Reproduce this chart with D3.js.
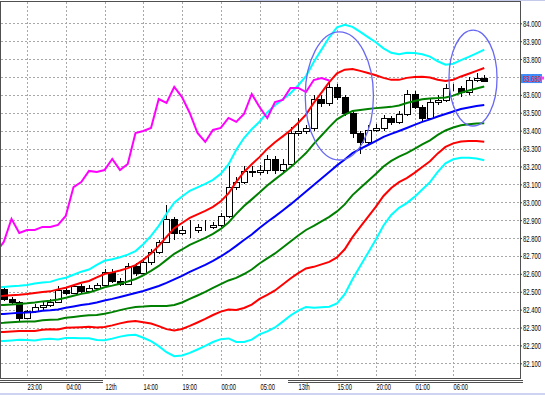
<!DOCTYPE html>
<html>
<head>
<meta charset="utf-8">
<script src="https://cdn.jsdelivr.net/npm/d3@7.9.0/dist/d3.min.js"></script>
<style>
  body { margin: 0; background: #fff; }
  svg { display: block; font-family: "Liberation Sans", Arial, sans-serif; }
</style>
</head>
<body>
<svg id="chart" width="545" height="395"></svg>
<script>
// hourly candles, bar index 0..62
const barOpen = [82.516, 82.460, 82.443, 82.354, 82.393, 82.415, 82.426, 82.443, 82.510, 82.493,
  82.532, 82.504, 82.521, 82.538, 82.611, 82.560, 82.544, 82.644, 82.605, 82.666,
  82.722, 82.778, 82.907, 82.828, 82.845, 82.845, 82.862, 82.862, 82.873, 82.923,
  83.085, 83.113, 83.175, 83.169, 83.180, 83.242, 83.180, 83.214, 83.387, 83.398,
  83.415, 83.577, 83.555, 83.644, 83.588, 83.499, 83.387, 83.337, 83.404, 83.415,
  83.471, 83.449, 83.493, 83.605, 83.532, 83.471, 83.560, 83.572, 83.639, 83.639,
  83.616, 83.683, 83.694];
const barHigh = [82.530, 82.470, 82.450, 82.400, 82.430, 82.440, 82.460, 82.530, 82.520, 82.545,
  82.545, 82.535, 82.550, 82.625, 82.625, 82.575, 82.660, 82.660, 82.690, 82.740,
  82.790, 82.985, 82.920, 82.870, 82.900, 82.880, 82.900, 82.890, 82.940, 83.200,
  83.140, 83.200, 83.200, 83.210, 83.265, 83.260, 83.240, 83.420, 83.470, 83.430,
  83.600, 83.600, 83.665, 83.660, 83.600, 83.510, 83.400, 83.430, 83.440, 83.490,
  83.480, 83.510, 83.630, 83.620, 83.545, 83.580, 83.600, 83.660, 83.660, 83.650,
  83.700, 83.720, 83.710];
const barLow = [82.450, 82.430, 82.335, 82.345, 82.380, 82.400, 82.415, 82.435, 82.480, 82.485,
  82.495, 82.495, 82.510, 82.530, 82.550, 82.530, 82.535, 82.590, 82.595, 82.650,
  82.710, 82.770, 82.790, 82.815, 82.800, 82.830, 82.840, 82.850, 82.860, 82.910,
  83.070, 83.100, 83.140, 83.150, 83.160, 83.160, 83.170, 83.200, 83.370, 83.380,
  83.400, 83.530, 83.540, 83.570, 83.480, 83.360, 83.270, 83.320, 83.390, 83.400,
  83.430, 83.440, 83.480, 83.520, 83.455, 83.460, 83.545, 83.560, 83.620, 83.590,
  83.600, 83.670, 83.670];
const barClose = [82.460, 82.443, 82.354, 82.393, 82.415, 82.426, 82.443, 82.510, 82.493, 82.532,
  82.504, 82.521, 82.538, 82.611, 82.560, 82.544, 82.644, 82.605, 82.666, 82.722,
  82.778, 82.907, 82.828, 82.845, 82.845, 82.862, 82.862, 82.873, 82.923, 83.085,
  83.113, 83.175, 83.169, 83.180, 83.242, 83.180, 83.214, 83.387, 83.398, 83.415,
  83.577, 83.555, 83.644, 83.588, 83.499, 83.387, 83.337, 83.404, 83.415, 83.471,
  83.449, 83.493, 83.605, 83.532, 83.471, 83.560, 83.572, 83.639, 83.639, 83.616,
  83.683, 83.694, 83.680];

// band lines, bar index -1..62
const bandStart = -1;
const bandUp3 = [82.525, 82.527, 82.530, 82.533, 82.538, 82.546, 82.552, 82.555, 82.569, 82.578, 82.595,
  82.612, 82.624, 82.650, 82.673, 82.682, 82.693, 82.707, 82.727, 82.765, 82.812,
  82.868, 82.936, 82.998, 83.032, 83.064, 83.083, 83.103, 83.125, 83.159, 83.211,
  83.293, 83.359, 83.408, 83.450, 83.502, 83.542, 83.575, 83.609, 83.654, 83.705,
  83.784, 83.853, 83.922, 83.977, 83.992, 83.980, 83.952, 83.923, 83.894, 83.860,
  83.835, 83.827, 83.835, 83.834, 83.827, 83.814, 83.788, 83.769, 83.774, 83.794,
  83.812, 83.832, 83.853];
const bandUp2 = [82.475, 82.477, 82.480, 82.483, 82.487, 82.493, 82.499, 82.502, 82.513, 82.522, 82.536,
  82.550, 82.560, 82.580, 82.599, 82.608, 82.619, 82.632, 82.649, 82.678, 82.714,
  82.756, 82.807, 82.855, 82.884, 82.913, 82.932, 82.952, 82.974, 83.005, 83.049,
  83.114, 83.169, 83.212, 83.252, 83.298, 83.335, 83.368, 83.402, 83.444, 83.490,
  83.555, 83.613, 83.671, 83.720, 83.741, 83.745, 83.734, 83.722, 83.710, 83.695,
  83.684, 83.684, 83.695, 83.700, 83.701, 83.697, 83.685, 83.677, 83.685, 83.703,
  83.718, 83.734, 83.750];
const bandUp1 = [82.424, 82.426, 82.429, 82.432, 82.435, 82.440, 82.446, 82.449, 82.457, 82.466, 82.477,
  82.488, 82.496, 82.510, 82.525, 82.534, 82.545, 82.557, 82.571, 82.591, 82.616,
  82.644, 82.678, 82.712, 82.736, 82.762, 82.781, 82.801, 82.823, 82.851, 82.887,
  82.935, 82.979, 83.016, 83.054, 83.094, 83.128, 83.161, 83.195, 83.234, 83.275,
  83.326, 83.373, 83.420, 83.463, 83.490, 83.510, 83.516, 83.521, 83.526, 83.530,
  83.533, 83.541, 83.555, 83.566, 83.575, 83.580, 83.582, 83.585, 83.596, 83.612,
  83.624, 83.636, 83.647];
const bandMid = [82.374, 82.376, 82.379, 82.382, 82.384, 82.387, 82.393, 82.396, 82.401, 82.410, 82.418,
  82.426, 82.432, 82.440, 82.451, 82.460, 82.471, 82.482, 82.493, 82.504, 82.518,
  82.532, 82.549, 82.569, 82.588, 82.611, 82.630, 82.650, 82.672, 82.697, 82.725,
  82.756, 82.789, 82.820, 82.856, 82.890, 82.921, 82.954, 82.988, 83.024, 83.060,
  83.097, 83.133, 83.169, 83.206, 83.239, 83.275, 83.298, 83.320, 83.342, 83.365,
  83.382, 83.398, 83.415, 83.432, 83.449, 83.463, 83.479, 83.493, 83.507, 83.521,
  83.530, 83.538, 83.544];
const bandLo1 = [82.324, 82.326, 82.329, 82.332, 82.333, 82.334, 82.340, 82.343, 82.345, 82.354, 82.359,
  82.364, 82.368, 82.370, 82.377, 82.386, 82.397, 82.407, 82.415, 82.417, 82.420,
  82.420, 82.420, 82.426, 82.440, 82.460, 82.479, 82.499, 82.521, 82.543, 82.563,
  82.577, 82.599, 82.624, 82.658, 82.686, 82.714, 82.747, 82.781, 82.814, 82.845,
  82.868, 82.893, 82.918, 82.949, 82.988, 83.040, 83.080, 83.119, 83.158, 83.200,
  83.231, 83.255, 83.275, 83.298, 83.323, 83.346, 83.376, 83.401, 83.418, 83.430,
  83.436, 83.440, 83.441];
const bandLo2 = [82.273, 82.275, 82.278, 82.281, 82.281, 82.281, 82.287, 82.290, 82.289, 82.298, 82.300,
  82.302, 82.304, 82.300, 82.303, 82.312, 82.323, 82.332, 82.337, 82.330, 82.322,
  82.308, 82.291, 82.283, 82.292, 82.309, 82.328, 82.348, 82.370, 82.389, 82.401,
  82.398, 82.409, 82.428, 82.460, 82.482, 82.507, 82.540, 82.574, 82.604, 82.630,
  82.639, 82.653, 82.667, 82.692, 82.737, 82.805, 82.862, 82.918, 82.974, 83.035,
  83.080, 83.112, 83.135, 83.164, 83.197, 83.229, 83.273, 83.309, 83.329, 83.339,
  83.342, 83.342, 83.338];
const bandLo3 = [82.223, 82.225, 82.228, 82.231, 82.230, 82.228, 82.234, 82.237, 82.233, 82.242, 82.241,
  82.240, 82.240, 82.230, 82.229, 82.238, 82.249, 82.257, 82.259, 82.243, 82.224,
  82.196, 82.162, 82.140, 82.144, 82.158, 82.177, 82.197, 82.219, 82.235, 82.239,
  82.219, 82.219, 82.232, 82.262, 82.278, 82.300, 82.333, 82.367, 82.394, 82.415,
  82.410, 82.413, 82.416, 82.435, 82.486, 82.570, 82.644, 82.717, 82.790, 82.870,
  82.929, 82.969, 82.995, 83.030, 83.071, 83.112, 83.170, 83.217, 83.240, 83.248,
  83.248, 83.244, 83.235];

// lagging close line, bar index -1..42
const lagStart = -1;
const lagLine = [82.722, 82.778, 82.907, 82.828, 82.845, 82.845, 82.862, 82.862, 82.873, 82.923, 83.085,
  83.113, 83.175, 83.169, 83.180, 83.242, 83.180, 83.214, 83.387, 83.398, 83.415,
  83.577, 83.555, 83.644, 83.588, 83.499, 83.387, 83.337, 83.404, 83.415, 83.471,
  83.449, 83.493, 83.605, 83.532, 83.471, 83.560, 83.572, 83.639, 83.639, 83.616,
  83.683, 83.694, 83.680];

const timeBars = [3, 8, 13, 18, 23, 28, 33, 38, 43, 48, 53, 58];
const timeLabels = ["23:00", "04:00", "12th", "14:00", "19:00", "00:00", "05:00", "13th", "15:00", "20:00", "01:00", "06:00"];
const priceTicks = [82.1, 82.2, 82.3, 82.4, 82.5, 82.6, 82.7, 82.8, 82.9, 83.0,
  83.1, 83.2, 83.3, 83.4, 83.5, 83.6, 83.7, 83.8, 83.9, 84.0];
const lastPrice = 83.680;

// hand-drawn ellipses (centre bar, centre price, radius in bars, radius in price)
const ringBar = [43.3, 60.55];
const ringPrice = [83.594, 83.694];
const ringBarRadius = [4.4, 3.1];
const ringPriceRadius = [0.358, 0.268];

const svg = d3.select("#chart");
const plotRight = 520, plotTop = 2, plotBottom = 378;
const squeezeY = 0.69, squeezeX = 0.64;   // narrow terminal font

const x = d3.scaleLinear().domain([0, 62]).range([3.75, 484.25]);
const y = d3.scaleLinear().domain([82.1, 84.0]).range([363.3, 23.3]);

svg.append("defs").append("clipPath").attr("id", "plotClip")
  .append("rect").attr("x", 1).attr("y", plotTop).attr("width", plotRight - 1).attr("height", plotBottom - plotTop);

// grid
const grid = svg.append("g")
  .attr("stroke", "#a8a8a8")
  .attr("stroke-dasharray", "2,2")
  .attr("shape-rendering", "crispEdges");
grid.selectAll("line.h").data(priceTicks).join("line")
  .attr("class", "h")
  .attr("x1", 1).attr("x2", plotRight)
  .attr("y1", (d) => Math.round(y(d)) + 0.5)
  .attr("y2", (d) => Math.round(y(d)) + 0.5);
grid.selectAll("line.v").data(timeBars).join("line")
  .attr("class", "v")
  .attr("x1", (d) => Math.round(x(d)) + 0.5)
  .attr("x2", (d) => Math.round(x(d)) + 0.5)
  .attr("y1", plotTop).attr("y2", plotBottom);

const plot = svg.append("g").attr("clip-path", "url(#plotClip)");

// candles
const candles = plot.append("g").attr("shape-rendering", "crispEdges");
barOpen.forEach((o, i) => {
  const c = barClose[i];
  const cx = Math.round(x(i));
  candles.append("line")
    .attr("x1", cx + 0.5).attr("x2", cx + 0.5)
    .attr("y1", Math.round(y(barHigh[i])))
    .attr("y2", Math.round(y(barLow[i])))
    .attr("stroke", "#000");
  const top = Math.round(y(Math.max(o, c)));
  const bot = Math.round(y(Math.min(o, c)));
  candles.append("rect")
    .attr("x", cx - 2.5).attr("y", top + 0.5)
    .attr("width", 6).attr("height", Math.max(bot - top, 0))
    .attr("fill", c >= o ? "#fff" : "#000")
    .attr("stroke", "#000");
});

// indicator lines
function drawLine(values, start, color) {
  const line = d3.line()
    .x((d, i) => x(i + start))
    .y((d) => y(d));
  plot.append("path")
    .datum(values)
    .attr("fill", "none")
    .attr("stroke", color)
    .attr("stroke-width", 2)
    .attr("d", line);
}
drawLine(bandLo3, bandStart, "#00ffff");
drawLine(bandLo2, bandStart, "#ff0000");
drawLine(bandLo1, bandStart, "#008000");
drawLine(bandMid, bandStart, "#0000ff");
drawLine(bandUp1, bandStart, "#008000");
drawLine(bandUp2, bandStart, "#ff0000");
drawLine(bandUp3, bandStart, "#00ffff");
drawLine(lagLine, lagStart, "#ff00ff");

// ellipses
ringBar.forEach((b, i) => {
  plot.append("ellipse")
    .attr("cx", x(b)).attr("cy", y(ringPrice[i]))
    .attr("rx", x(b + ringBarRadius[i]) - x(b))
    .attr("ry", y(ringPrice[i] - ringPriceRadius[i]) - y(ringPrice[i]))
    .attr("fill", "none")
    .attr("stroke", "#6868f4")
    .attr("stroke-width", 1.3);
});

// frame
const frame = svg.append("g").attr("shape-rendering", "crispEdges").attr("stroke", "#505050");
frame.append("line").attr("x1", 0).attr("x2", plotRight + 0.5).attr("y1", 1.5).attr("y2", 1.5);
frame.append("line").attr("x1", 0.5).attr("x2", 0.5).attr("y1", 1).attr("y2", plotBottom);
frame.append("line").attr("x1", plotRight + 0.5).attr("x2", plotRight + 0.5).attr("y1", 1).attr("y2", plotBottom + 1);
frame.append("line").attr("x1", 0).attr("x2", plotRight + 1).attr("y1", plotBottom + 0.5).attr("y2", plotBottom + 0.5);
[[0, 103], [288, 523]].forEach(([a, b]) => {
  frame.append("line").attr("x1", a).attr("x2", b).attr("y1", 380.5).attr("y2", 380.5);
  frame.append("line").attr("x1", a).attr("x2", b).attr("y1", 382.5).attr("y2", 382.5);
});
svg.append("rect").attr("x", 240).attr("y", 0).attr("width", 305).attr("height", 1).attr("fill", "#c4cbea");
svg.append("rect").attr("x", 0).attr("y", 393).attr("width", 545).attr("height", 2).attr("fill", "#cfd3f2");

// price axis
const yAxis = svg.append("g")
  .attr("transform", `translate(${plotRight},0)`)
  .call(d3.axisRight(y).tickValues(priceTicks).tickFormat(d3.format(".3f")).tickSize(2).tickPadding(1));
yAxis.select(".domain").remove();
yAxis.selectAll(".tick line").attr("stroke", "#404040");
yAxis.selectAll("text")
  .attr("font-size", 8.5)
  .attr("fill", "#000")
  .attr("dy", "0.35em")
  .attr("x", 3 / squeezeY)
  .attr("transform", `scale(${squeezeY},1)`);

// last price marker
const lastY = y(lastPrice);
svg.append("rect")
  .attr("x", 521).attr("y", lastY - 6.5)
  .attr("width", 21).attr("height", 9)
  .attr("fill", "#3d8dff");
svg.append("rect")
  .attr("x", 542).attr("y", lastY - 4)
  .attr("width", 2).attr("height", 3)
  .attr("fill", "#ff40ff");
svg.append("text")
  .attr("transform", `translate(523,${lastY - 2}) scale(${squeezeY},1)`)
  .attr("dy", "0.35em")
  .attr("font-size", 8.5)
  .attr("fill", "#ff1010")
  .text(d3.format(".3f")(lastPrice));

// time axis
const xAxis = svg.append("g")
  .attr("transform", `translate(0,${plotBottom})`)
  .call(d3.axisBottom(x).tickValues(timeBars).tickFormat((d, i) => timeLabels[i]).tickSize(0));
xAxis.select(".domain").remove();
xAxis.selectAll(".tick").each(function (d) {
  const tx = Math.round(x(d)) + 0.5;
  d3.select(this).attr("transform", `translate(${tx},0)`);
});
xAxis.selectAll("text")
  .attr("font-size", 9)
  .attr("fill", "#000")
  .attr("text-anchor", "start")
  .attr("x", 0)
  .attr("y", 12.5)
  .attr("dy", 0)
  .attr("transform", `scale(${squeezeX},1)`);
</script>
</body>
</html>
